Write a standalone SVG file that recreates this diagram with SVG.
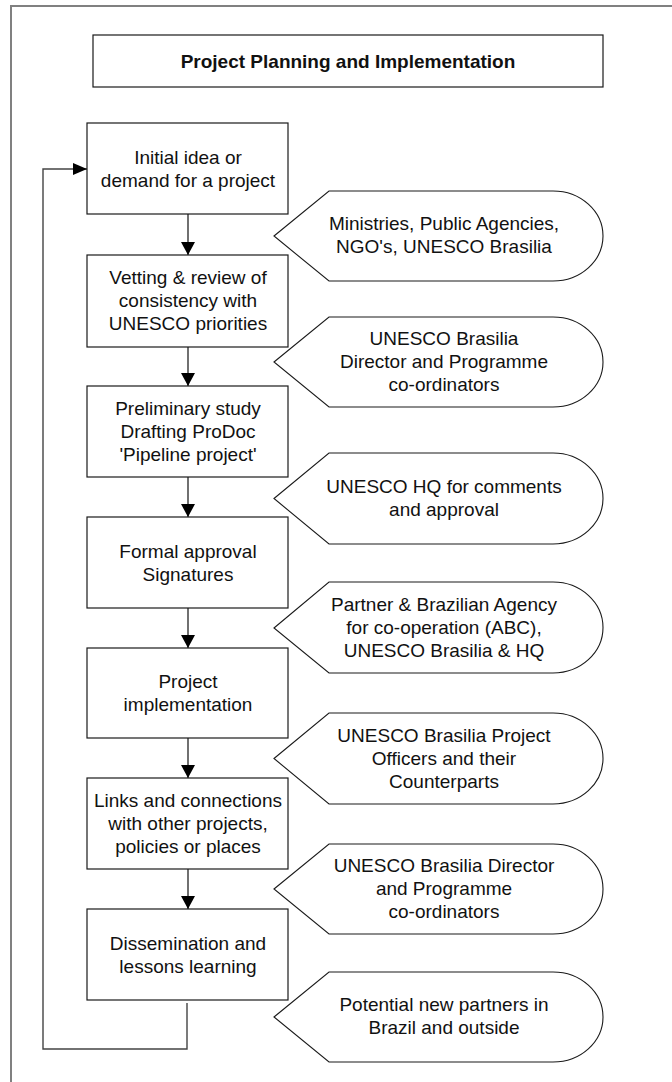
<svg xmlns="http://www.w3.org/2000/svg" width="672" height="1082" viewBox="0 0 672 1082">
<style>
.box{fill:#fff;stroke:#1a1a1a;stroke-width:1.2}
.disp{fill:#fff;stroke:#1a1a1a;stroke-width:1.1}
.t{font-family:"Liberation Sans",Arial,sans-serif;font-size:19px;fill:#111;text-anchor:middle}
.tb{font-family:"Liberation Sans",Arial,sans-serif;font-size:19px;font-weight:bold;fill:#111;text-anchor:middle}
.c{fill:none;stroke:#111;stroke-width:1.2}
.loop{fill:none;stroke:#444;stroke-width:1.4}
</style>
<defs>
<marker id="ah" viewBox="0 0 13 14" refX="13" refY="7" markerWidth="13" markerHeight="14" markerUnits="userSpaceOnUse" orient="auto">
<path d="M0,0 L13,7 L0,14 z" fill="#000"/>
</marker>
<marker id="ah2" viewBox="0 0 14 12" refX="14" refY="6" markerWidth="14" markerHeight="12" markerUnits="userSpaceOnUse" orient="auto">
<path d="M0,0 L14,6 L0,12 z" fill="#000"/>
</marker>
</defs>
<rect width="672" height="1082" fill="#fff"/>
<path d="M11,1082 V6 H672" fill="none" stroke="#808080" stroke-width="2"/>

<g id="title">
<rect class="box" x="93" y="35" width="510" height="52"/>
<text class="tb" x="348" y="68">Project Planning and Implementation</text>
</g>

<g id="connectors">
<line class="c" x1="188" y1="214" x2="188" y2="255" marker-end="url(#ah)"/>
<line class="c" x1="188" y1="347" x2="188" y2="386" marker-end="url(#ah)"/>
<line class="c" x1="188" y1="477" x2="188" y2="517" marker-end="url(#ah)"/>
<line class="c" x1="188" y1="608" x2="188" y2="648" marker-end="url(#ah)"/>
<line class="c" x1="188" y1="738" x2="188" y2="778" marker-end="url(#ah)"/>
<line class="c" x1="188" y1="869" x2="188" y2="909" marker-end="url(#ah)"/>
<path class="loop" d="M187,1003 V1049 H43 V169 H87" marker-end="url(#ah2)"/>
</g>

<g id="box1">
<rect class="box" x="87" y="123" width="201" height="91"/>
<text class="t" x="188" y="164">Initial idea or</text>
<text class="t" x="188" y="187">demand for a project</text>
</g>
<g id="box2">
<rect class="box" x="87" y="255" width="201" height="92"/>
<text class="t" x="188" y="284">Vetting &amp; review of</text>
<text class="t" x="188" y="307">consistency with</text>
<text class="t" x="188" y="330">UNESCO priorities</text>
</g>
<g id="box3">
<rect class="box" x="87" y="386" width="201" height="91"/>
<text class="t" x="188" y="415">Preliminary study</text>
<text class="t" x="188" y="438">Drafting ProDoc</text>
<text class="t" x="188" y="461">'Pipeline project'</text>
</g>
<g id="box4">
<rect class="box" x="87" y="517" width="201" height="91"/>
<text class="t" x="188" y="558">Formal approval</text>
<text class="t" x="188" y="581">Signatures</text>
</g>
<g id="box5">
<rect class="box" x="87" y="648" width="201" height="90"/>
<text class="t" x="188" y="688">Project</text>
<text class="t" x="188" y="711">implementation</text>
</g>
<g id="box6">
<rect class="box" x="87" y="778" width="201" height="91"/>
<text class="t" x="188" y="807">Links and connections</text>
<text class="t" x="188" y="830">with other projects,</text>
<text class="t" x="188" y="853">policies or places</text>
</g>
<g id="box7">
<rect class="box" x="87" y="909" width="201" height="91"/>
<text class="t" x="188" y="950">Dissemination and</text>
<text class="t" x="188" y="973">lessons learning</text>
</g>

<g id="src1">
<path class="disp" d="M274,236 L329,191 H553 A50,45 0 0 1 553,281 H329 Z"/>
<text class="t" x="444" y="230">Ministries, Public Agencies,</text>
<text class="t" x="444" y="253">NGO's, UNESCO Brasilia</text>
</g>
<g id="src2">
<path class="disp" d="M274,362 L329,317 H553 A50,45 0 0 1 553,407 H329 Z"/>
<text class="t" x="444" y="345">UNESCO Brasilia</text>
<text class="t" x="444" y="368">Director and Programme</text>
<text class="t" x="444" y="391">co-ordinators</text>
</g>
<g id="src3">
<path class="disp" d="M274,498.5 L329,453 H553 A50,45.5 0 0 1 553,544 H329 Z"/>
<text class="t" x="444" y="493">UNESCO HQ for comments</text>
<text class="t" x="444" y="516">and approval</text>
</g>
<g id="src4">
<path class="disp" d="M274,628 L329,582 H553 A50,45.5 0 0 1 553,673 H329 Z"/>
<text class="t" x="444" y="611">Partner &amp; Brazilian Agency</text>
<text class="t" x="444" y="634">for co-operation (ABC),</text>
<text class="t" x="444" y="657">UNESCO Brasilia &amp; HQ</text>
</g>
<g id="src5">
<path class="disp" d="M274,758.5 L329,713 H553 A50,45.5 0 0 1 553,804 H329 Z"/>
<text class="t" x="444" y="742">UNESCO Brasilia Project</text>
<text class="t" x="444" y="765">Officers and their</text>
<text class="t" x="444" y="788">Counterparts</text>
</g>
<g id="src6">
<path class="disp" d="M274,889 L329,844 H553 A50,45 0 0 1 553,934 H329 Z"/>
<text class="t" x="444" y="872">UNESCO Brasilia Director</text>
<text class="t" x="444" y="895">and Programme</text>
<text class="t" x="444" y="918">co-ordinators</text>
</g>
<g id="src7">
<path class="disp" d="M274,1017 L329,972 H553 A50,45 0 0 1 553,1062 H329 Z"/>
<text class="t" x="444" y="1011">Potential new partners in</text>
<text class="t" x="444" y="1034">Brazil and outside</text>
</g>
</svg>
